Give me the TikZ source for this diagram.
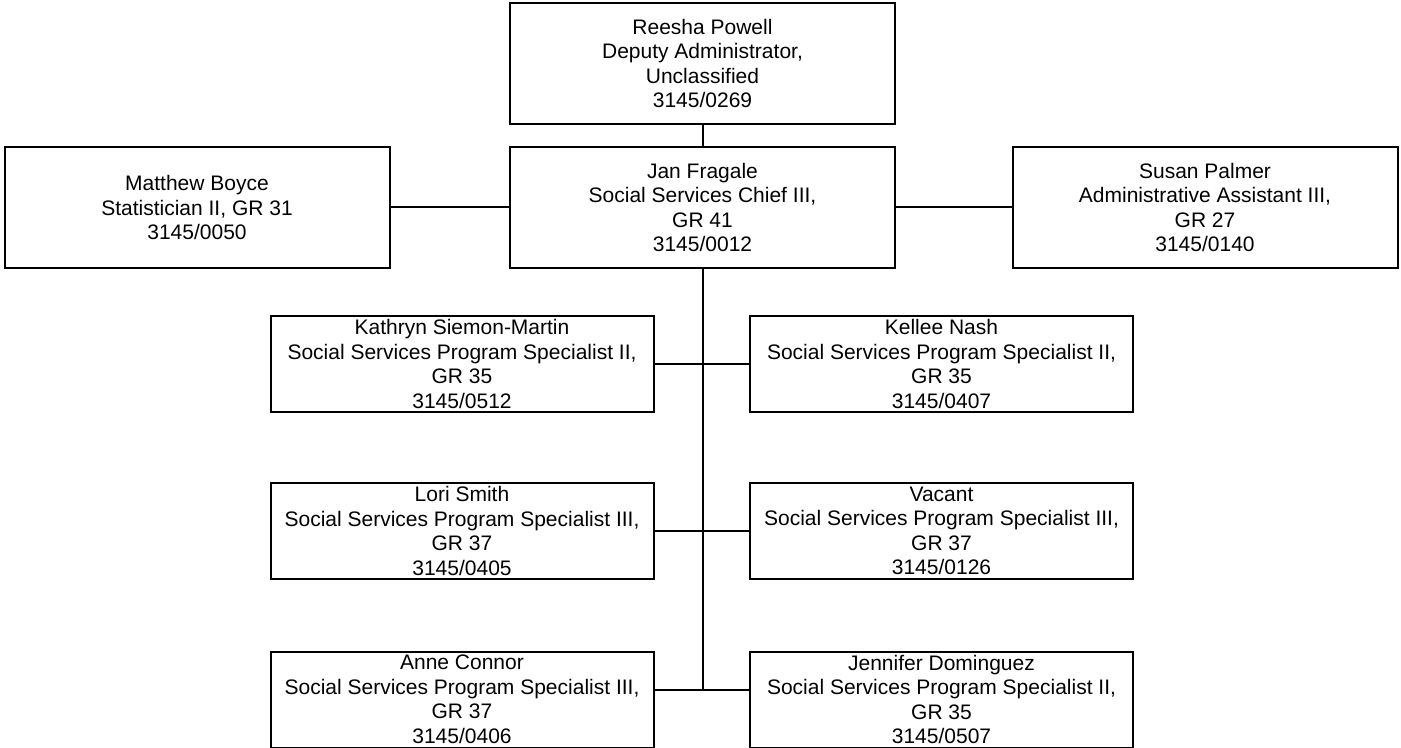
\documentclass[tikz,border=0pt]{standalone}
\usepackage{fontspec}
\setmainfont{Liberation Sans}
\begin{document}
\begin{tikzpicture}[x=0.5pt, y=-0.5pt, line width=1pt,
  post/.style={draw, inner sep=0pt, align=center, minimum width=192.5pt, minimum height=60.5pt, font=\fontsize{10.5}{12.25}\selectfont},
  spec/.style={post, minimum width=191.5pt, minimum height=48pt}]
\useasboundingbox (0,0) rectangle (1401,748);
\node[post] (rp) at (702.5,63.5) {Reesha Powell\\Deputy Administrator,\\Unclassified\\3145/0269};
\node[post] (jf) at (702.5,207.5) {Jan Fragale\\Social Services Chief III,\\GR 41\\3145/0012};
\node[post] (mb) at (197,207.5) {Matthew Boyce\\Statistician II, GR 31\\3145/0050};
\node[post] (sp) at (1205,207.5) {Susan Palmer\\Administrative Assistant III,\\GR 27\\3145/0140};
\node[spec] (ks) at (462,364) {Kathryn Siemon-Martin\\Social Services Program Specialist II,\\GR 35\\3145/0512};
\node[spec] (kn) at (941.5,364) {Kellee Nash\\Social Services Program Specialist II,\\GR 35\\3145/0407};
\node[spec] (ls) at (462,531) {Lori Smith\\Social Services Program Specialist III,\\GR 37\\3145/0405};
\node[spec] (va) at (941.5,531) {Vacant\\Social Services Program Specialist III,\\GR 37\\3145/0126};
\node[spec] (ac) at (462,699.5) {Anne Connor\\Social Services Program Specialist III,\\GR 37\\3145/0406};
\node[spec] (jd) at (941.5,699.5) {Jennifer Dominguez\\Social Services Program Specialist II,\\GR 35\\3145/0507};
\coordinate (t) at (702.5,690);
\draw (rp) -- (jf);
\draw (mb) -- (jf);
\draw (jf) -- (sp);
\draw (jf) -- (t);
\draw (ks) -- (kn);
\draw (ls) -- (va);
\draw (ac.east |- t) -- (jd.west |- t);
\end{tikzpicture}
\end{document}
